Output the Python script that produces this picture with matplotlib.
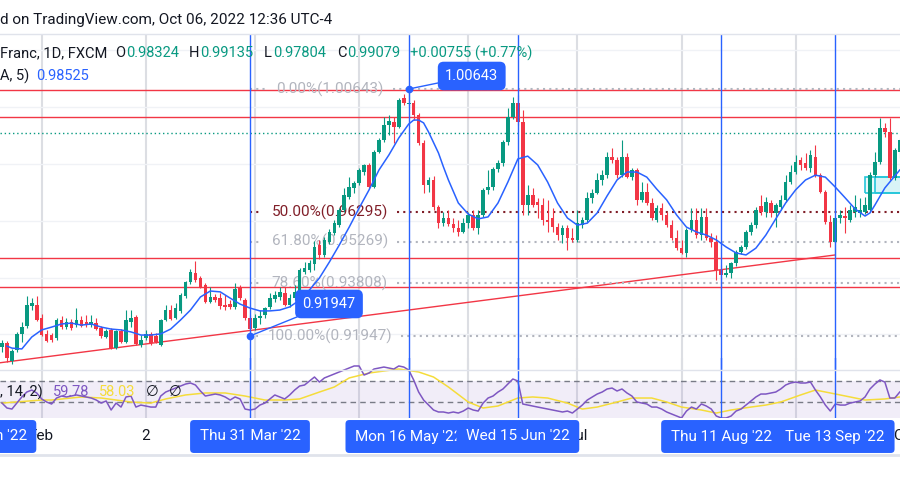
import numpy as np
import matplotlib
matplotlib.use('Agg')  # no display
import matplotlib.pyplot as plt
from matplotlib.patches import Rectangle

plt.rcParams['font.family'] = ['Roboto', 'DejaVu Sans']

# ============ data ============ #
first_day = '2022-01-20'   # first daily bar on screen

opens = [0.9156, 0.9170, 0.9107, 0.9145, 0.9200, 0.9230, 0.9300, 0.9304, 0.9258, 0.9202,
         0.9198, 0.9188, 0.9251, 0.9226, 0.9244, 0.9233, 0.9251, 0.9244, 0.9233, 0.9240,
         0.9223, 0.9191, 0.9216, 0.9152, 0.9212, 0.9173, 0.9244, 0.9261, 0.9163, 0.9188,
         0.9202, 0.9195, 0.9163, 0.9251, 0.9286, 0.9258, 0.9283, 0.9335, 0.9385, 0.9416,
         0.9399, 0.9374, 0.9314, 0.9332, 0.9328, 0.9304, 0.9307, 0.9297, 0.9364, 0.9321,
         0.9258, 0.9223, 0.9258, 0.9268, 0.9297, 0.9325, 0.9332, 0.9346, 0.9304, 0.9328,
         0.9350, 0.9420, 0.9427, 0.9448, 0.9515, 0.9480, 0.9526, 0.9557, 0.9585, 0.9638,
         0.9684, 0.9716, 0.9733, 0.9772, 0.9796, 0.9719, 0.9842, 0.9885, 0.9938, 0.9948,
         0.9931, 1.0033, 1.0012, 1.0015, 0.9973, 0.9874, 0.9726, 0.9744, 0.9649, 0.9592,
         0.9610, 0.9589, 0.9575, 0.9561, 0.9592, 0.9621, 0.9575, 0.9621, 0.9709, 0.9719,
         0.9783, 0.9804, 0.9878, 0.9966, 1.0015, 0.9948, 0.9656, 0.9691, 0.9667, 0.9656,
         0.9603, 0.9610, 0.9578, 0.9550, 0.9575, 0.9540, 0.9533, 0.9585, 0.9603, 0.9681,
         0.9698, 0.9744, 0.9761, 0.9825, 0.9814, 0.9761, 0.9825, 0.9754, 0.9779, 0.9674,
         0.9702, 0.9663, 0.9603, 0.9645, 0.9621, 0.9585, 0.9540, 0.9504, 0.9487, 0.9568,
         0.9603, 0.9550, 0.9614, 0.9540, 0.9526, 0.9427, 0.9410, 0.9416, 0.9452, 0.9490,
         0.9508, 0.9561, 0.9585, 0.9652, 0.9631, 0.9663, 0.9627, 0.9649, 0.9674, 0.9737,
         0.9772, 0.9814, 0.9804, 0.9786, 0.9825, 0.9761, 0.9702, 0.9596, 0.9526, 0.9610,
         0.9617, 0.9603, 0.9631, 0.9627, 0.9631, 0.9638, 0.9761, 0.9807, 0.9927, 0.9913,
         0.9751, 0.9843]
highs = [0.9180, 0.9177, 0.9149, 0.9209, 0.9244, 0.9335, 0.9328, 0.9335, 0.9272, 0.9216,
         0.9205, 0.9258, 0.9265, 0.9258, 0.9254, 0.9293, 0.9265, 0.9268, 0.9268, 0.9258,
         0.9230, 0.9219, 0.9223, 0.9216, 0.9219, 0.9286, 0.9286, 0.9268, 0.9198, 0.9216,
         0.9209, 0.9205, 0.9254, 0.9304, 0.9304, 0.9311, 0.9346, 0.9388, 0.9430, 0.9459,
         0.9406, 0.9381, 0.9367, 0.9342, 0.9346, 0.9339, 0.9321, 0.9381, 0.9374, 0.9328,
         0.9268, 0.9272, 0.9286, 0.9297, 0.9346, 0.9353, 0.9367, 0.9367, 0.9342, 0.9374,
         0.9434, 0.9455, 0.9462, 0.9529, 0.9533, 0.9543, 0.9571, 0.9603, 0.9645, 0.9716,
         0.9754, 0.9740, 0.9786, 0.9800, 0.9804, 0.9850, 0.9892, 0.9966, 0.9973, 0.9966,
         1.0033, 1.0047, 1.0064, 1.0026, 0.9980, 0.9885, 0.9754, 0.9758, 0.9656, 0.9631,
         0.9638, 0.9610, 0.9603, 0.9610, 0.9631, 0.9638, 0.9638, 0.9716, 0.9779, 0.9790,
         0.9814, 0.9885, 0.9997, 1.0036, 1.0043, 0.9990, 0.9726, 0.9716, 0.9681, 0.9681,
         0.9674, 0.9645, 0.9592, 0.9585, 0.9585, 0.9575, 0.9638, 0.9614, 0.9702, 0.9712,
         0.9769, 0.9779, 0.9842, 0.9857, 0.9825, 0.9885, 0.9839, 0.9786, 0.9786, 0.9737,
         0.9733, 0.9681, 0.9656, 0.9663, 0.9631, 0.9603, 0.9568, 0.9533, 0.9575, 0.9645,
         0.9645, 0.9645, 0.9645, 0.9557, 0.9550, 0.9445, 0.9445, 0.9455, 0.9497, 0.9515,
         0.9568, 0.9596, 0.9649, 0.9691, 0.9684, 0.9674, 0.9663, 0.9691, 0.9761, 0.9796,
         0.9832, 0.9825, 0.9839, 0.9850, 0.9867, 0.9769, 0.9709, 0.9621, 0.9614, 0.9638,
         0.9649, 0.9656, 0.9691, 0.9681, 0.9684, 0.9772, 0.9843, 0.9962, 0.9945, 0.9962,
         0.9857, 0.9892]
lows = [0.9138, 0.9103, 0.9096, 0.9138, 0.9173, 0.9223, 0.9286, 0.9247, 0.9195, 0.9173,
        0.9173, 0.9180, 0.9219, 0.9219, 0.9216, 0.9226, 0.9226, 0.9226, 0.9226, 0.9216,
        0.9188, 0.9188, 0.9149, 0.9149, 0.9170, 0.9170, 0.9226, 0.9163, 0.9156, 0.9180,
        0.9163, 0.9170, 0.9160, 0.9247, 0.9251, 0.9254, 0.9276, 0.9328, 0.9378, 0.9385,
        0.9364, 0.9311, 0.9311, 0.9314, 0.9290, 0.9286, 0.9290, 0.9290, 0.9321, 0.9251,
        0.9195, 0.9216, 0.9237, 0.9258, 0.9290, 0.9314, 0.9321, 0.9300, 0.9297, 0.9321,
        0.9321, 0.9413, 0.9420, 0.9427, 0.9466, 0.9473, 0.9519, 0.9550, 0.9578, 0.9631,
        0.9677, 0.9698, 0.9726, 0.9761, 0.9716, 0.9716, 0.9838, 0.9878, 0.9903, 0.9874,
        0.9927, 1.0008, 1.0004, 0.9955, 0.9867, 0.9698, 0.9702, 0.9638, 0.9575, 0.9582,
        0.9582, 0.9561, 0.9547, 0.9557, 0.9575, 0.9568, 0.9554, 0.9614, 0.9695, 0.9709,
        0.9772, 0.9793, 0.9867, 0.9959, 0.9938, 0.9621, 0.9621, 0.9649, 0.9610, 0.9585,
        0.9561, 0.9561, 0.9533, 0.9522, 0.9497, 0.9526, 0.9526, 0.9575, 0.9596, 0.9663,
        0.9695, 0.9726, 0.9751, 0.9804, 0.9751, 0.9754, 0.9751, 0.9744, 0.9656, 0.9667,
        0.9656, 0.9603, 0.9596, 0.9603, 0.9578, 0.9533, 0.9497, 0.9483, 0.9473, 0.9561,
        0.9540, 0.9533, 0.9533, 0.9508, 0.9392, 0.9360, 0.9403, 0.9399, 0.9441, 0.9483,
        0.9501, 0.9550, 0.9575, 0.9621, 0.9614, 0.9614, 0.9578, 0.9638, 0.9666, 0.9730,
        0.9765, 0.9779, 0.9779, 0.9772, 0.9754, 0.9698, 0.9589, 0.9508, 0.9476, 0.9593,
        0.9557, 0.9596, 0.9614, 0.9614, 0.9624, 0.9631, 0.9754, 0.9800, 0.9895, 0.9744,
        0.9744, 0.9821]
closes = [0.9170, 0.9117, 0.9142, 0.9202, 0.9226, 0.9304, 0.9311, 0.9251, 0.9198, 0.9177,
          0.9180, 0.9251, 0.9226, 0.9244, 0.9223, 0.9251, 0.9230, 0.9233, 0.9244, 0.9219,
          0.9195, 0.9212, 0.9152, 0.9212, 0.9173, 0.9251, 0.9258, 0.9166, 0.9180, 0.9202,
          0.9170, 0.9173, 0.9251, 0.9286, 0.9254, 0.9293, 0.9339, 0.9385, 0.9420, 0.9392,
          0.9367, 0.9314, 0.9332, 0.9321, 0.9300, 0.9297, 0.9297, 0.9360, 0.9328, 0.9258,
          0.9219, 0.9258, 0.9265, 0.9293, 0.9328, 0.9339, 0.9350, 0.9304, 0.9328, 0.9350,
          0.9427, 0.9434, 0.9452, 0.9508, 0.9480, 0.9533, 0.9561, 0.9592, 0.9638, 0.9691,
          0.9719, 0.9733, 0.9779, 0.9796, 0.9719, 0.9842, 0.9885, 0.9938, 0.9952, 0.9931,
          1.0026, 1.0015, 1.0015, 0.9973, 0.9874, 0.9726, 0.9744, 0.9649, 0.9592, 0.9610,
          0.9589, 0.9575, 0.9561, 0.9592, 0.9621, 0.9575, 0.9621, 0.9709, 0.9719, 0.9783,
          0.9804, 0.9878, 0.9966, 1.0015, 0.9948, 0.9656, 0.9691, 0.9656, 0.9656, 0.9603,
          0.9596, 0.9578, 0.9550, 0.9575, 0.9540, 0.9533, 0.9592, 0.9603, 0.9681, 0.9698,
          0.9744, 0.9761, 0.9825, 0.9814, 0.9761, 0.9825, 0.9754, 0.9779, 0.9674, 0.9702,
          0.9663, 0.9610, 0.9645, 0.9621, 0.9585, 0.9540, 0.9504, 0.9487, 0.9568, 0.9603,
          0.9550, 0.9614, 0.9540, 0.9526, 0.9427, 0.9410, 0.9416, 0.9452, 0.9490, 0.9508,
          0.9561, 0.9585, 0.9638, 0.9631, 0.9667, 0.9627, 0.9656, 0.9674, 0.9737, 0.9772,
          0.9807, 0.9796, 0.9786, 0.9832, 0.9761, 0.9702, 0.9596, 0.9526, 0.9610, 0.9621,
          0.9610, 0.9638, 0.9649, 0.9638, 0.9656, 0.9761, 0.9807, 0.9927, 0.9913, 0.9751,
          0.9850, 0.9885]

# blue moving average, read every couple of bars
ma_bars = [1, 2, 4, 6, 8, 10, 12, 14, 16, 18, 20, 22, 24, 26, 28, 30, 32, 34, 36, 38,
           40, 42, 44, 46, 48, 50, 52, 54, 56, 58, 60, 62, 64, 66, 68, 70, 72, 74, 76, 78,
           80, 82, 83, 84, 85, 86, 88, 89, 90, 92, 94, 96, 98, 100, 102, 104, 106, 108, 110, 112,
           114, 116, 118, 120, 122, 124, 126, 128, 130, 132, 134, 136, 138, 140, 142, 144, 146, 148, 150, 152,
           154, 156, 158, 160, 162, 164, 166, 168, 170, 172, 174, 175, 176, 178, 180, 181]
ma_vals = [0.9159, 0.9152, 0.9149, 0.9191, 0.9216, 0.9226, 0.9237, 0.9240, 0.9233, 0.9237,
           0.9226, 0.9219, 0.9216, 0.9209, 0.9198, 0.9198, 0.9202, 0.9219, 0.9251, 0.9286,
           0.9332, 0.9353, 0.9350, 0.9328, 0.9307, 0.9293, 0.9283, 0.9283, 0.9286, 0.9297,
           0.9321, 0.9357, 0.9399, 0.9455, 0.9515, 0.9578, 0.9645, 0.9709, 0.9779, 0.9832,
           0.9892, 0.9941, 0.9955, 0.9955, 0.9945, 0.9913, 0.9839, 0.9790, 0.9744, 0.9663,
           0.9624, 0.9607, 0.9614, 0.9663, 0.9737, 0.9818, 0.9828, 0.9797, 0.9737, 0.9663,
           0.9610, 0.9585, 0.9592, 0.9628, 0.9688, 0.9744, 0.9772, 0.9772, 0.9754, 0.9712,
           0.9674, 0.9621, 0.9578, 0.9561, 0.9550, 0.9533, 0.9508, 0.9487, 0.9480, 0.9504,
           0.9550, 0.9607, 0.9663, 0.9709, 0.9744, 0.9761, 0.9754, 0.9719, 0.9681, 0.9642,
           0.9617, 0.9628, 0.9656, 0.9716, 0.9758, 0.9779]

# RSI pane
rsi_vals = [49.0, 44.3, 43.3, 49.0, 54.8, 59.5, 61.4, 58.6, 52.9, 50.0,
            48.1, 53.8, 55.7, 54.8, 55.7, 56.7, 55.7, 54.8, 53.8, 51.9,
            49.0, 51.0, 42.4, 49.0, 45.2, 54.8, 55.7, 45.2, 47.1, 46.2,
            45.2, 45.2, 55.7, 59.5, 61.4, 63.3, 65.2, 67.1, 68.1, 66.2,
            60.5, 55.7, 56.7, 57.6, 56.7, 54.8, 51.9, 54.8, 52.9, 43.3,
            42.4, 43.3, 47.1, 49.0, 52.9, 56.7, 54.8, 52.9, 56.7, 61.4,
            65.2, 66.2, 70.0, 73.8, 69.0, 72.9, 74.8, 76.7, 78.6, 80.5,
            82.4, 84.3, 84.3, 75.7, 77.6, 81.4, 82.4, 83.3, 82.4, 81.4,
            84.3, 83.3, 80.5, 71.0, 59.5, 51.9, 47.1, 42.4, 40.5, 40.5,
            39.5, 40.5, 39.5, 41.4, 44.3, 42.4, 41.4, 49.0, 53.8, 55.7,
            59.5, 62.4, 67.1, 71.9, 70.0, 48.1, 47.1, 46.2, 45.2, 44.3,
            43.3, 42.4, 41.4, 40.5, 41.4, 39.5, 43.3, 47.1, 51.9, 54.8,
            57.6, 59.5, 62.4, 63.3, 60.5, 62.4, 58.6, 55.7, 50.0, 49.0,
            48.1, 45.2, 45.2, 43.3, 40.5, 38.6, 36.7, 34.8, 41.4, 45.2,
            43.3, 48.1, 46.2, 43.3, 36.7, 34.8, 34.8, 36.7, 41.4, 43.3,
            47.1, 51.0, 54.8, 57.6, 57.6, 58.6, 59.5, 62.4, 66.2, 68.1,
            69.0, 68.1, 68.1, 69.0, 61.4, 54.8, 47.1, 41.4, 48.1, 47.1,
            47.1, 49.0, 50.0, 51.0, 54.8, 62.4, 67.1, 71.0, 69.0, 53.8,
            53.8, 59.5]
rsi_ma_bars = [0, 8, 10, 16, 20, 23, 26, 30, 33, 37, 41, 45, 49, 53, 57, 60, 64, 67, 70, 74,
               77, 80, 84, 87, 90, 94, 97, 100, 104, 107, 110, 114, 117, 120, 124, 127, 131, 134, 137, 141,
               144, 147, 151, 154, 157, 161, 164, 167, 171, 174, 178, 181]
rsi_ma_vals = [49.0, 51.9, 51.9, 54.8, 53.8, 51.9, 50.0, 49.0, 52.9, 56.7,
               58.6, 58.6, 55.7, 51.9, 51.9, 52.9, 59.5, 64.3, 72.9, 77.6,
               79.5, 81.4, 78.6, 73.8, 64.3, 50.0, 44.3, 46.2, 53.8, 54.8,
               53.8, 49.0, 43.3, 45.2, 50.0, 53.8, 53.8, 50.0, 45.2, 42.4,
               39.5, 42.4, 45.2, 47.1, 50.0, 56.7, 61.4, 58.6, 54.8, 51.9,
               52.9, 54.8]

# drawings
red_levels = [1.0061, 0.9967, 0.9469, 0.9367]
trend_days = ['2022-01-19', '2022-09-13']
trend_prices = [0.9099, 0.9480]
fib_day = '2022-03-31'
fib_pcts = ['0.00%', '50.00%', '61.80%', '78.60%', '100.00%']
fib_prices = [1.00643, 0.96295, 0.95269, 0.93808, 0.91947]
fib_high_day, fib_low_day = '2022-05-16', '2022-03-31'
zone_days = ['2022-09-21', '2022-09-23']
zone_prices = (0.9698, 0.9755)
last_close = 0.99079

cursor_days = ['2022-01-13', '2022-03-31', '2022-05-16', '2022-06-15', '2022-08-11', '2022-09-13']
tick_days = ['2022-02-01', '2022-03-02', '2022-04-01', '2022-05-02', '2022-06-01',
             '2022-07-01', '2022-08-01', '2022-09-01', '2022-10-03']
tick_labels = ['Feb', '2', 'Apr', 'May', 'Jun', 'Jul', 'Aug', 'Sep', 'Oct']
price_grid = [0.92, 0.94, 0.96, 0.98, 1.00, 1.02]

UP, DOWN, BLUE = '#089981', '#F23645', '#2962FF'
GRID_V, GRID_H = '#dcdee3', '#f0f2f6'
FIB_GREY, FIB_MID = '#b2b5be', '#801e28'
TXT = '#131722'


def bar_of(day):
    # position in business days from the first bar
    return int(np.busday_count(first_day, day))


def to_date(day):
    return np.datetime64(day).astype(object)


n = len(closes)
bars = np.arange(n)
o, h, l, c = map(np.array, (opens, highs, lows, closes))

fig = plt.figure(figsize=(9, 5), dpi=100)
fig.patch.set_facecolor('white')

ax = fig.add_axes([0, 130 / 500, 1, 336 / 500], zorder=1)
ax_r = fig.add_axes([0, 82 / 500, 1, 60 / 500], sharex=ax, zorder=2)
ax_t = fig.add_axes([0, 45 / 500, 1, 37 / 500], sharex=ax, zorder=3)
ov = fig.add_axes([0, 0, 1, 1], zorder=4)
for a in (ax, ax_r, ax_t, ov):
    a.axis('off')

ax.set_xlim(-0.403, 181.05)
ax.set_ylim(0.90749, 1.02580)
ax_r.set_ylim(34.78, 91.9)
ax_t.set_ylim(0, 1)
ov.set_xlim(0, 900)
ov.set_ylim(500, 0)

# ---- grid & cursor lines ----
tick_pos = [bar_of(d) for d in tick_days]
cursor_pos = [bar_of(d) for d in cursor_days]
for a in (ax, ax_r):
    for m in tick_pos:
        a.axvline(m, color=GRID_V, lw=1.5, zorder=0)
    for cp in cursor_pos:
        a.axvline(cp, color=BLUE, lw=1, zorder=7)
for g in price_grid:
    ax.axhline(g, color=GRID_H, lw=1, zorder=0)

# ---- candles ----
col = np.where(c >= o, UP, DOWN)
ax.vlines(bars, l, h, colors=col, lw=0.8, zorder=4)
body_h = np.maximum(np.abs(c - o), 0.00012)
ax.bar(bars, body_h, bottom=np.minimum(o, c), width=0.72, color=col, lw=0, zorder=5)
ax.plot(ma_bars, ma_vals, color=BLUE, lw=1.1, zorder=6)

# ---- drawings ----
for lv in red_levels:
    ax.axhline(lv, color=DOWN, lw=1, zorder=3)
ax.plot([bar_of(d) for d in trend_days], trend_prices, color=DOWN, lw=1, zorder=3)
ax.axhline(last_close, color=UP, lw=1, ls=(0, (1, 2)), zorder=3)

for zd in zone_days:
    zx0 = bar_of(zd)
    ax.add_patch(Rectangle((zx0, zone_prices[0]), 30, zone_prices[1] - zone_prices[0],
                           fc='#00bcd4', alpha=0.08, ec='none', zorder=2))
    ax.add_patch(Rectangle((zx0, zone_prices[0]), 30, zone_prices[1] - zone_prices[0],
                           fc='none', ec='#26c6da', lw=1.2, zorder=2))

fx0 = bar_of(fib_day)
label_x = fx0 + 16.1
for pct, pr in zip(fib_pcts, fib_prices):
    colr = FIB_MID if pct == '50.00%' else FIB_GREY
    label = f"{pct}({pr:.5f})"
    half = (3.9 * len(label) + 9) / 4.96
    ax.plot([fx0, label_x - half], [pr, pr], color=colr, lw=1.5, ls=(0, (1, 2)), zorder=3)
    ax.plot([label_x + half, 200], [pr, pr], color=colr, lw=1.5, ls=(0, (1, 2)), zorder=3)
    ax.text(label_x, pr, label, ha='center', va='center', fontsize=11, color=colr, zorder=3)

for day, pr, off in [(fib_high_day, fib_prices[0], (63, 13)), (fib_low_day, fib_prices[-1], (79, 32))]:
    bx = bar_of(day)
    ax.plot(bx, pr, 'o', ms=4.5, color=BLUE, zorder=9)
    ax.annotate(f"{pr:.5f}", xy=(bx, pr), xytext=off, textcoords='offset pixels',
                ha='center', va='center', color='white', fontsize=10.5, zorder=10,
                bbox=dict(boxstyle='round,pad=0.5,rounding_size=0.4', fc=BLUE, ec='none'),
                arrowprops=dict(arrowstyle='-', color=BLUE, lw=1, shrinkA=0, shrinkB=0))

# ---- RSI pane ----
ax_r.axhspan(30, 70, color='#7E57C2', alpha=0.1, lw=0, zorder=0)
for lv in (70, 50):
    ax_r.axhline(lv, color='#787b86', lw=1, ls=(0, (4, 3)), zorder=1)
ax_r.plot(bars, rsi_vals, color='#7E57C2', lw=1.1, zorder=3)
ax_r.plot(rsi_ma_bars, rsi_ma_vals, color='#F5DC3A', lw=1.1, zorder=2)

# ---- time axis ----
for s, m in zip(tick_labels, tick_pos):
    ax_t.text(m, 0.5, s, ha='center', va='center', fontsize=11, color=TXT, zorder=1)
for k, (d, cp) in enumerate(zip(cursor_days, cursor_pos)):
    ax_t.text(cp, 0.5, to_date(d).strftime("%a %d %b '%y"), ha='center', va='center',
              fontsize=11, color='white', zorder=2 + k,
              bbox=dict(boxstyle='round,pad=0.62,rounding_size=0.25', fc=BLUE, ec='none'))

# ---- header, legends, separators ----
for yy, lw_ in [(34, 1), (370, 1), (455, 2)]:
    ov.plot([0, 900], [yy, yy], color='#e0e3eb', lw=lw_, zorder=0)
ov.text(0, 20, "d on TradingView.com, Oct 06, 2022 12:36 UTC-4", fontsize=11,
        color=TXT, va='center', ha='left')
leg1 = [(0, "Franc, 1D, FXCM", TXT), (115, "O", TXT), (126, "0.98324", UP),
        (189, "H", TXT), (200, "0.99135", UP), (264, "L", TXT), (273, "0.97804", UP),
        (337, "C", TXT), (347, "0.99079", UP), (410, "+0.00755 (+0.77%)", UP)]
for xx, s, cc in leg1:
    ov.text(xx, 53, s, fontsize=10.5, color=cc, va='center', ha='left')
ov.text(0, 76, "A, 5)", fontsize=10.5, color=TXT, va='center', ha='left')
ov.text(36, 76, "0.98525", fontsize=10.5, color=BLUE, va='center', ha='left')
leg_r = [(0, ", 14, 2)", TXT), (53, "59.78", '#7E57C2'), (99, "58.03", '#F5DC3A'),
         (146, "\u2205", TXT), (169, "\u2205", TXT)]
for xx, s, cc in leg_r:
    ov.text(xx, 392, s, fontsize=10.5, color=cc, va='center', ha='left')

fig.savefig('out.png', dpi=100, facecolor='white')
